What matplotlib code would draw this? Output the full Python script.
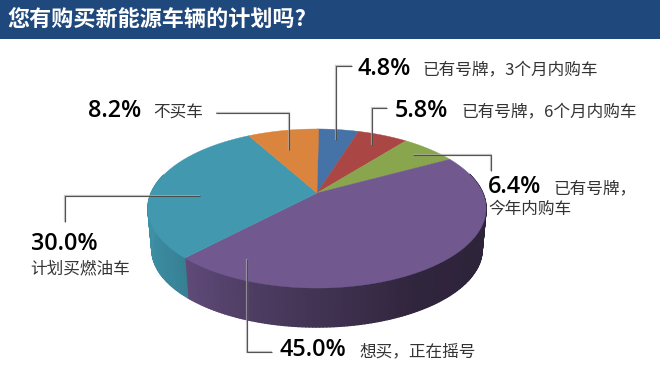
import numpy as np
import matplotlib
matplotlib.use("Agg")
import matplotlib.pyplot as plt

plt.rcParams['font.family'] = ['Noto Sans CJK SC', 'DejaVu Sans']

# data, clockwise from 12 o'clock
values = [4.8, 5.8, 6.4, 45.0, 30.0, 8.2]
colors = ["#4572A7", "#AA4643", "#89A54E", "#71588F", "#4198AF", "#DB843D"]
desc_text = ["已有号牌，3个月内购车", "已有号牌，6个月内购车", "已有号牌，\n今年内购车",
             "想买，正在摇号", "计划买燃油车", "不买车"]
title = "您有购买新能源车辆的计划吗?"

# perspective of the tilted disc, all in pixels of the 660x371 picture
cx = 317
cy_top = 193
cy_bot = 234.2
scale_bot = 0.977
A = 165.8
B = 76.5
k = 0.195


def rim(theta, cy=cy_top, s=1.0, r=1.0):
    # theta in radians clockwise from top, r=1 is the rim
    u = r * np.sin(theta)
    v = -r * np.cos(theta)
    w = 1 - k * v
    return cx + s * A * u / w, cy + s * B * v / w


def shade(col, f):
    rgb = np.array(matplotlib.colors.to_rgb(col))
    return tuple(rgb * f)


fig = plt.figure(figsize=(6.6, 3.71), dpi=100)
ax = fig.add_axes([0, 0, 1, 1])
ax.set_xlim(0, 660)
ax.set_ylim(371, 0)
ax.axis("off")

# title bar
ax.fill([0, 660, 660, 0], [0, 0, 39, 39], color="#1F497D", lw=0)
ax.text(7, 19.5, title, color="white", fontsize=15.9, fontweight="bold", va="center", ha="left")

edges = np.deg2rad(np.cumsum([0] + values) * 3.6)

# side wall first, the top covers what is behind it
for i in range(len(values)):
    thetas = np.arange(edges[i], edges[i + 1], np.deg2rad(1.0))
    thetas = np.append(thetas, edges[i + 1])
    for a, b in zip(thetas[:-1], thetas[1:]):
        if np.cos((a + b) / 2) > 0.25:
            continue
        x1, y1 = rim(np.array([a, b]))
        x2, y2 = rim(np.array([b, a]), cy_bot, scale_bot)
        f = np.interp(np.sin((a + b) / 2), [-1, -0.68, -0.35, 0, 0.5, 1], [0.95, 0.84, 0.70, 0.58, 0.42, 0.40])
        c = shade(colors[i], f)
        ax.fill(np.r_[x1, x2], np.r_[y1, y2], facecolor=c, edgecolor=c, lw=1.0, joinstyle="round")

# top of the disc
for i in range(len(values)):
    t = np.linspace(edges[i], edges[i + 1], 120)
    x, y = rim(t)
    ax.fill(np.r_[cx, x], np.r_[cy_top, y], facecolor=colors[i], edgecolor=colors[i], lw=0.3)

# leader lines
leaders = [
    ([336, 336, 352], [140, 66, 66]),
    ([372, 372, 387], [145, 108, 108]),
    ([413, 491, 491], [155, 155, 171]),
    ([216, 289, 289], [113, 113, 150]),
    ([200, 65, 65], [196, 196, 222]),
    ([247, 247, 272], [259, 352, 352]),
]
for lx, ly in leaders:
    ax.plot(lx, ly, color="#B0B0B0", lw=1.6, alpha=0.7, solid_capstyle="butt", solid_joinstyle="miter")
    ax.plot(lx, ly, color="#404040", lw=0.8, alpha=0.85, solid_capstyle="butt", solid_joinstyle="miter")

# labels: value text then description
pct_pos = [(358, 75), (395, 117), (488, 193), (279, 356), (31, 250), (88, 117)]
desc_pos = [(422, 75), (461, 117), (553, 193), (359, 356), (30, 273), (153, 118)]
for v, p, d, txt in zip(values, pct_pos, desc_pos, desc_text):
    ax.text(p[0], p[1], f"{v:.1f}%", family="Open Sans", fontsize=16.8, fontweight="semibold",
            color="#000000", ha="left", va="baseline")
    if "\n" in txt:
        first, second = txt.split("\n")
        ax.text(d[0], d[1], first, fontsize=12, color="#333333", ha="left", va="baseline")
        ax.text(488, 214, second, fontsize=12, color="#333333", ha="left", va="baseline")
    else:
        ax.text(d[0], d[1], txt, fontsize=12, color="#333333", ha="left", va="baseline")

fig.savefig("out.png", dpi=100)
